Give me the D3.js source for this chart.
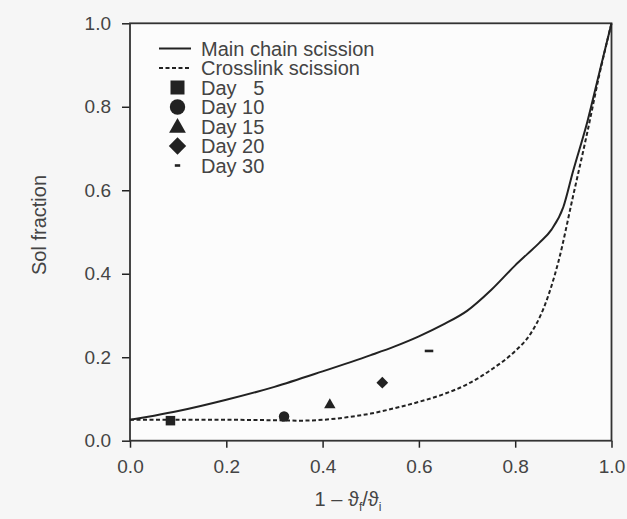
<!DOCTYPE html>
<html>
<head>
<meta charset="utf-8">
<script src="https://cdn.jsdelivr.net/npm/d3@7"></script>
<style>
  body { margin: 0; background: #f6f6f6; }
  svg { display: block; }
  text { font-family: "Liberation Sans", Arial, sans-serif; }
</style>
</head>
<body>
<div id="chart"></div>
<script>
// model curves
var mainX = [0, 0.05, 0.1, 0.2, 0.3, 0.4, 0.5, 0.55, 0.6, 0.65, 0.7, 0.75, 0.8, 0.825, 0.85, 0.875, 0.9, 0.92, 0.95, 0.975, 1.0];
var mainY = [0.05, 0.06, 0.071, 0.098, 0.129, 0.166, 0.205, 0.226, 0.25, 0.278, 0.311, 0.361, 0.42, 0.447, 0.474, 0.505, 0.56, 0.645, 0.765, 0.883, 1.0];
var crossX = [0, 0.1, 0.2, 0.3, 0.35, 0.4, 0.45, 0.5, 0.55, 0.6, 0.65, 0.7, 0.75, 0.8, 0.83, 0.86, 0.89, 0.92, 0.95, 0.975, 1.0];
var crossY = [0.05, 0.05, 0.05, 0.049, 0.048, 0.05, 0.056, 0.065, 0.078, 0.093, 0.111, 0.135, 0.17, 0.215, 0.253, 0.32, 0.43, 0.585, 0.74, 0.878, 1.0];

// measured points
var dayLabels = ["Day   5", "Day 10", "Day 15", "Day 20", "Day 30"];
var dayShapes = ["square", "circle", "triangle", "diamond", "dash"];
var dayX = [0.084, 0.32, 0.415, 0.524, 0.621];
var dayY = [0.048, 0.058, 0.088, 0.139, 0.215];

var xTicks = [0, 0.2, 0.4, 0.6, 0.8, 1.0];
var yTicks = [0, 0.2, 0.4, 0.6, 0.8, 1.0];

var W = 627, H = 519;
var pLeft = 130, pRight = 611.5, pTop = 23.3, pBottom = 440.7;
var ink = "#222", labelInk = "#444";

var svg = d3.select("#chart").append("svg")
  .attr("width", W).attr("height", H);

svg.append("rect").attr("x", 0).attr("y", 0).attr("width", W).attr("height", H)
  .attr("fill", "#f6f6f6");

var x = d3.scaleLinear().domain([0, 1]).range([pLeft, pRight]);
var y = d3.scaleLinear().domain([0, 1]).range([pBottom, pTop]);

// plot area
svg.append("rect")
  .attr("x", pLeft).attr("y", pTop)
  .attr("width", pRight - pLeft).attr("height", pBottom - pTop)
  .attr("fill", "#fcfcfc");

// axes
var xAxis = svg.append("g")
  .attr("transform", "translate(0," + pBottom + ")")
  .call(d3.axisBottom(x).tickValues(xTicks).tickFormat(d3.format(".1f"))
    .tickSizeInner(7).tickSizeOuter(0).tickPadding(12));
var yAxis = svg.append("g")
  .attr("transform", "translate(" + pLeft + ",0)")
  .call(d3.axisLeft(y).tickValues(yTicks).tickFormat(d3.format(".1f"))
    .tickSizeInner(8).tickSizeOuter(0).tickPadding(11));

[xAxis, yAxis].forEach(function(g){
  g.select(".domain").remove();
  g.selectAll(".tick line").attr("stroke", ink).attr("stroke-width", 1.5);
  g.selectAll(".tick text").attr("fill", labelInk)
    .style("font-size", "19px");
});

// frame
svg.append("rect")
  .attr("x", pLeft).attr("y", pTop)
  .attr("width", pRight - pLeft).attr("height", pBottom - pTop)
  .attr("fill", "none").attr("stroke", "#333").attr("stroke-width", 1.8);

// curves
var line = d3.line()
  .x(function(d){ return x(d[0]); })
  .y(function(d){ return y(d[1]); })
  .curve(d3.curveMonotoneX);

svg.append("path")
  .datum(mainX.map(function(v, i){ return [v, mainY[i]]; }))
  .attr("d", line)
  .attr("fill", "none").attr("stroke", ink).attr("stroke-width", 2);

svg.append("path")
  .datum(crossX.map(function(v, i){ return [v, crossY[i]]; }))
  .attr("d", line)
  .attr("fill", "none").attr("stroke", ink).attr("stroke-width", 2)
  .attr("stroke-dasharray", "4,2.5");

// marker drawing
function drawMarker(g, shape, cx, cy, s) {
  if (shape === "square") {
    g.append("rect").attr("x", cx - s / 2).attr("y", cy - s / 2)
      .attr("width", s).attr("height", s).attr("fill", ink);
  } else if (shape === "circle") {
    g.append("circle").attr("cx", cx).attr("cy", cy).attr("r", s * 0.55).attr("fill", ink);
  } else if (shape === "triangle") {
    var h = s * 1.0;
    g.append("path")
      .attr("d", "M" + cx + "," + (cy - h * 0.6) + "L" + (cx + s * 0.6) + "," + (cy + h * 0.45) +
        "L" + (cx - s * 0.6) + "," + (cy + h * 0.45) + "Z")
      .attr("fill", ink);
  } else if (shape === "diamond") {
    var r = s * 0.62;
    g.append("path")
      .attr("d", "M" + cx + "," + (cy - r) + "L" + (cx + r) + "," + cy +
        "L" + cx + "," + (cy + r) + "L" + (cx - r) + "," + cy + "Z")
      .attr("fill", ink);
  } else if (shape === "dash") {
    g.append("rect").attr("x", cx - s * 0.45).attr("y", cy - 1.3)
      .attr("width", s * 0.9).attr("height", 2.6).attr("fill", ink);
  }
}

var pts = svg.append("g");
dayX.forEach(function(v, i){
  drawMarker(pts, dayShapes[i], x(v), y(dayY[i]), 9.5);
});

// legend
var lg = svg.append("g");
var lgX0 = 159, lgX1 = 191, lgText = 201, lgY0 = 48.5, lgStep = 19.5;
var lgFont = "20px";

lg.append("line").attr("x1", lgX0).attr("x2", lgX1).attr("y1", lgY0).attr("y2", lgY0)
  .attr("stroke", ink).attr("stroke-width", 2);
lg.append("line").attr("x1", lgX0).attr("x2", lgX1).attr("y1", lgY0 + lgStep).attr("y2", lgY0 + lgStep)
  .attr("stroke", ink).attr("stroke-width", 2).attr("stroke-dasharray", "4,2.5");

var lgNames = ["Main chain scission", "Crosslink scission"].concat(dayLabels);
lgNames.forEach(function(t, i){
  lg.append("text")
    .attr("x", lgText).attr("y", lgY0 + i * lgStep)
    .attr("dy", "0.36em")
    .attr("fill", labelInk)
    .style("font-size", lgFont)
    .style("white-space", "pre")
    .text(t);
});
dayShapes.forEach(function(s, i){
  drawMarker(lg, s, 177.5, lgY0 + (i + 2) * lgStep, s === "dash" ? 6 : 14);
});

// axis titles
svg.append("text")
  .attr("transform", "translate(46,225) rotate(-90)")
  .attr("text-anchor", "middle")
  .attr("fill", labelInk)
  .style("font-size", "20px")
  .text("Sol fraction");

var xt = svg.append("text")
  .attr("x", 348).attr("y", 506)
  .attr("text-anchor", "middle")
  .attr("fill", labelInk)
  .style("font-size", "20px");
xt.append("tspan").text("1 \u2013 \u03D1");
xt.append("tspan").attr("dy", 5).style("font-size", "12px").text("f");
xt.append("tspan").attr("dy", -5).text("/\u03D1");
xt.append("tspan").attr("dy", 5).style("font-size", "12px").text("i");
</script>
</body>
</html>
